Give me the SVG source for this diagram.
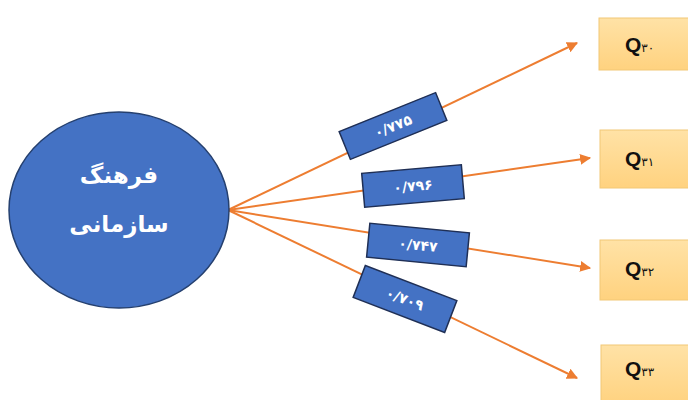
<svg xmlns="http://www.w3.org/2000/svg" width="688" height="400" viewBox="0 0 688 400">
  <defs>
    <marker id="arrow" viewBox="0 0 10 10" refX="9" refY="5" markerWidth="5.5" markerHeight="5.5" orient="auto" markerUnits="strokeWidth">
      <path d="M0,0 L10,5 L0,10 z" fill="#ED7D31"/>
    </marker>
    <linearGradient id="qfill" x1="0" y1="0" x2="0" y2="1">
      <stop offset="0" stop-color="#FFE2A6"/>
      <stop offset="1" stop-color="#FFD27F"/>
    </linearGradient>
  </defs>
  <style>
    .edge { stroke: #ED7D31; stroke-width: 2; fill: none; marker-end: url(#arrow); }
    .qbox { fill: url(#qfill); stroke: #F2C877; stroke-width: 1; }
    .qtxt { font-family: "Liberation Sans", Arial, sans-serif; font-weight: bold; font-size: 21px; fill: #111; }
    .qnum { font-family: "DejaVu Sans", sans-serif; font-size: 12px; font-weight: normal; }
    .wbox { fill: #4472C4; stroke: #1F2F55; stroke-width: 1.5; }
    .wtxt { font-family: "DejaVu Sans", sans-serif; font-weight: bold; font-size: 14px; fill: #fff; text-anchor: middle; }
    .ctxt { font-family: "DejaVu Sans", sans-serif; font-weight: bold; font-size: 23px; fill: #fff; text-anchor: middle; }
  </style>
  <rect width="688" height="400" fill="#fff"/>

  <!-- connectors -->
  <g id="connectors">
    <line class="edge" x1="228" y1="210" x2="577" y2="43"/>
    <line class="edge" x1="228" y1="210" x2="590" y2="158"/>
    <line class="edge" x1="228" y1="210" x2="590" y2="268"/>
    <line class="edge" x1="228" y1="210" x2="577" y2="378"/>
  </g>

  <!-- source node -->
  <g id="culture">
    <ellipse cx="119" cy="210" rx="110" ry="98" fill="#4472C4" stroke="#25406F" stroke-width="1.5"/>
    <text class="ctxt" x="119" y="183" direction="rtl">فرهنگ</text>
    <text class="ctxt" x="119" y="232" direction="rtl">سازمانی</text>
  </g>

  <!-- loading labels -->
  <g id="w30" transform="translate(393,126) rotate(-22)">
    <rect class="wbox" x="-52" y="-15" width="104" height="30"/>
    <text class="wtxt" x="0" y="5" direction="ltr">۰/۷۷۵</text>
  </g>
  <g id="w31" transform="translate(413,186) rotate(-5)">
    <rect class="wbox" x="-50" y="-17" width="100" height="34"/>
    <text class="wtxt" x="0" y="5" direction="ltr">۰/۷۹۶</text>
  </g>
  <g id="w32" transform="translate(418,245) rotate(5.5)">
    <rect class="wbox" x="-50" y="-17" width="100" height="34"/>
    <text class="wtxt" x="0" y="5" direction="ltr">۰/۷۴۷</text>
  </g>
  <g id="w33" transform="translate(405,299) rotate(21)">
    <rect class="wbox" x="-49" y="-17" width="98" height="34"/>
    <text class="wtxt" x="0" y="5" direction="ltr">۰/۷۰۹</text>
  </g>

  <!-- item nodes -->
  <g id="q30">
    <rect class="qbox" x="599" y="18" width="100" height="52"/>
    <text class="qtxt" x="625" y="52">Q<tspan class="qnum">۳۰</tspan></text>
  </g>
  <g id="q31">
    <rect class="qbox" x="600" y="130" width="100" height="58"/>
    <text class="qtxt" x="625" y="166">Q<tspan class="qnum">۳۱</tspan></text>
  </g>
  <g id="q32">
    <rect class="qbox" x="600" y="240" width="100" height="60"/>
    <text class="qtxt" x="625" y="276">Q<tspan class="qnum">۳۲</tspan></text>
  </g>
  <g id="q33">
    <rect class="qbox" x="601" y="345" width="100" height="60"/>
    <text class="qtxt" x="625" y="376">Q<tspan class="qnum">۳۳</tspan></text>
  </g>
</svg>
